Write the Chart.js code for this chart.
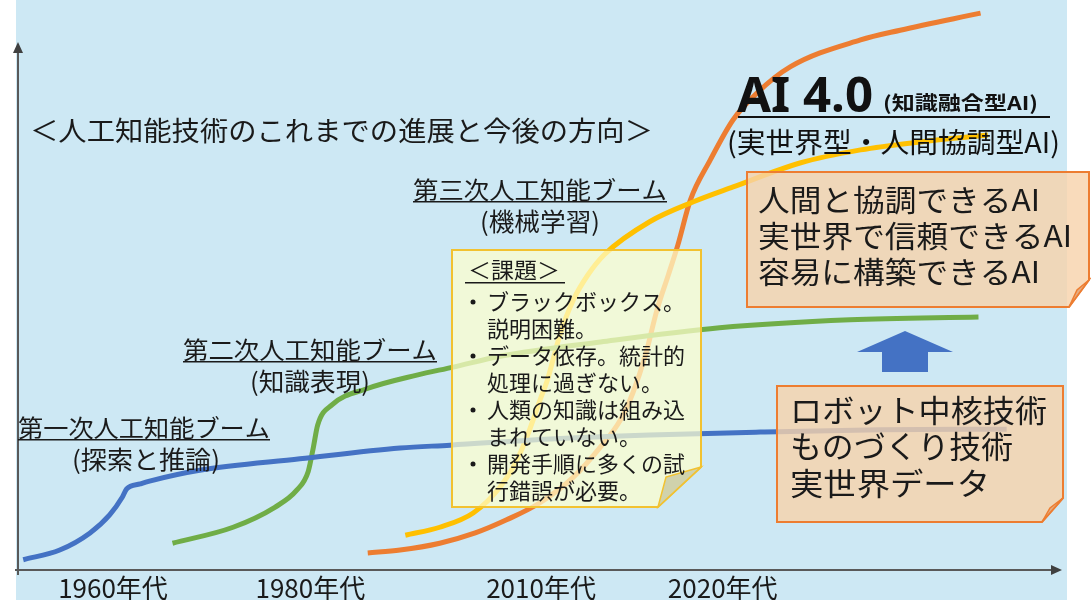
<!DOCTYPE html>
<html lang="ja">
<head>
<meta charset="utf-8">
<script src="https://cdn.jsdelivr.net/npm/chart.js@4"></script>
<style>
  html, body { margin: 0; padding: 0; background: #fff; }
  #wrap { width: 1091px; height: 600px; }
</style>
</head>
<body>
<div id="wrap"><canvas id="aiChart"></canvas></div>
<script>
// 時間軸 (0-100) と進展度 (0-100) の相対値
const boom1X = [0.5, 4.0, 6.9, 8.8, 10.0, 10.4, 11.7, 12.6, 17.4, 27.0, 36.6, 41.4, 51.0, 60.5, 71.1, 82.6, 94.7];
const boom1Y = [1.8, 3.5, 6.5, 9.7, 12.8, 14.2, 15.1, 15.6, 17.5, 19.5, 21.4, 21.9, 23.0, 23.7, 24.2, 24.6, 24.7];

const boom2X = [14.8, 20.6, 24.6, 26.7, 27.8, 28.3, 28.7, 30.1, 33.4, 38.2, 41.7, 46.2, 55.8, 67.2, 79.7, 92.0];
const boom2Y = [4.7, 7.5, 11.0, 14.0, 17.3, 21.6, 25.4, 29.0, 31.8, 34.2, 35.6, 37.5, 40.0, 42.5, 43.9, 44.4];

const boom3X = [37.1, 40.4, 43.6, 46.2, 47.8, 49.0, 50.0, 50.7, 51.9, 53.2, 54.6, 56.2, 60.5, 64.7, 68.5, 74.9, 80.7, 86.4, 92.9];
const boom3Y = [6.1, 7.5, 10.0, 14.6, 19.3, 24.6, 29.8, 33.3, 41.2, 47.4, 51.8, 55.4, 61.1, 64.6, 67.2, 71.4, 73.7, 75.1, 76.3];

const ai4X = [33.5, 36.6, 40.4, 43.8, 46.8, 50.0, 53.2, 55.8, 57.7, 58.9, 60.1, 61.2, 62.3, 63.2, 64.4, 66.3, 68.5, 70.8, 74.0, 80.7, 84.5, 92.2];
const ai4Y = [3.0, 3.5, 4.7, 6.5, 8.8, 11.8, 16.3, 21.6, 26.3, 31.1, 37.7, 45.6, 51.8, 57.0, 64.9, 71.9, 79.0, 83.7, 88.3, 93.0, 94.7, 97.7];

const decadeLabels = ['1960年代', '1980年代', '2010年代', '2020年代'];
const decadeX = [9.1, 28.0, 50.1, 67.5];

const challenges = [
  'ブラックボックス。', '説明困難。',
  'データ依存。統計的', '処理に過ぎない。',
  '人類の知識は組み込', 'まれていない。',
  '開発手順に多くの試', '行錯誤が必要。'
];
const goals = ['人間と協調できるAI', '実世界で信頼できるAI', '容易に構築できるAI'];
const bases = ['ロボット中核技術', 'ものづくり技術', '実世界データ'];

const JP = '"Noto Sans CJK JP", "Noto Sans", sans-serif';

function pts(xs, ys) {
  return xs.map((x, i) => ({ x: x, y: ys[i] }));
}

// 幅を合わせて描く
function fitText(ctx, text, x, y, w, font) {
  ctx.font = font;
  const m = ctx.measureText(text).width;
  ctx.save();
  ctx.translate(x, y);
  ctx.scale(w / m, 1);
  ctx.fillText(text, 0, 0);
  ctx.restore();
}

function noteBox(ctx, x0, y0, x1, y1, cut, fill, stroke, foldFill) {
  ctx.beginPath();
  ctx.moveTo(x0, y0);
  ctx.lineTo(x1, y0);
  ctx.lineTo(x1, y1 - cut[1]);
  ctx.lineTo(x1 - cut[0], y1);
  ctx.lineTo(x0, y1);
  ctx.closePath();
  ctx.fillStyle = fill;
  ctx.fill();
  ctx.lineWidth = 2;
  ctx.strokeStyle = stroke;
  ctx.stroke();
  ctx.beginPath();
  ctx.moveTo(x1, y1 - cut[1]);
  ctx.lineTo(x1 - cut[0] + 8, y1 - cut[1] + 10);
  ctx.lineTo(x1 - cut[0], y1);
  ctx.closePath();
  ctx.fillStyle = foldFill;
  ctx.fill();
  ctx.lineWidth = 1.5;
  ctx.stroke();
}

const diagram = {
  id: 'diagram',
  beforeDraw(chart) {
    const ctx = chart.ctx;
    ctx.save();
    ctx.fillStyle = '#ffffff';
    ctx.fillRect(0, 0, chart.width, chart.height);
    ctx.fillStyle = '#cde8f4';
    ctx.fillRect(16, 0, 1051, chart.height);
    ctx.restore();
  },
  afterDatasetsDraw(chart) {
    const ctx = chart.ctx;
    const xs = chart.scales.x;
    const area = chart.chartArea;
    ctx.save();

    // 軸
    ctx.strokeStyle = '#595959';
    ctx.fillStyle = '#404040';
    ctx.lineWidth = 2;
    ctx.beginPath();
    ctx.moveTo(area.left, area.bottom + 5);
    ctx.lineTo(area.left, 50);
    ctx.moveTo(15, area.bottom);
    ctx.lineTo(area.right - 8, area.bottom);
    ctx.stroke();
    ctx.beginPath();
    ctx.moveTo(area.left, 42);
    ctx.lineTo(area.left - 5, 53);
    ctx.lineTo(area.left + 5, 53);
    ctx.closePath();
    ctx.fill();
    ctx.beginPath();
    ctx.moveTo(area.right, area.bottom);
    ctx.lineTo(area.right - 11, area.bottom - 5);
    ctx.lineTo(area.right - 11, area.bottom + 5);
    ctx.closePath();
    ctx.fill();

    // 年代ラベル
    ctx.fillStyle = '#1a1a1a';
    ctx.font = '26px ' + JP;
    ctx.textAlign = 'center';
    ctx.textBaseline = 'alphabetic';
    decadeLabels.forEach((t, i) => {
      ctx.fillText(t, xs.getPixelForValue(decadeX[i]), 598);
    });

    ctx.textAlign = 'left';
    ctx.textBaseline = 'middle';

    // タイトル
    fitText(ctx, '＜人工知能技術のこれまでの進展と今後の方向＞', 30, 131, 623, '27px ' + JP);

    // 各ブーム
    const booms = [
      { t: '第一次人工知能ブーム', s: '(探索と推論)', x: 18, w: 252, y: 428, sx: 72, sw: 148 },
      { t: '第二次人工知能ブーム', s: '(知識表現)', x: 183, w: 254, y: 350, sx: 250, sw: 120 },
      { t: '第三次人工知能ブーム', s: '(機械学習)', x: 413, w: 254, y: 190, sx: 480, sw: 120 }
    ];
    booms.forEach(b => {
      ctx.fillStyle = '#1a1a1a';
      fitText(ctx, b.t, b.x, b.y, b.w, '24px ' + JP);
      ctx.fillRect(b.x, b.y + 11, b.w, 1.5);
      fitText(ctx, b.s, b.sx, b.y + 31, b.sw, '25px ' + JP);
    });

    // 課題の付箋
    noteBox(ctx, 452, 250, 701, 507, [43, 40], 'rgba(255,255,205,0.72)', '#f2c230', 'rgba(205,208,170,0.95)');
    ctx.fillStyle = '#1a1a1a';
    fitText(ctx, '＜課題＞', 468, 270, 92, '22px ' + JP);
    ctx.fillRect(465, 282, 100, 1.5);
    challenges.forEach((t, i) => {
      const y = 302 + i * 27;
      if (i % 2 === 0) {
        ctx.beginPath();
        ctx.arc(473, y, 2.5, 0, Math.PI * 2);
        ctx.fill();
      }
      ctx.font = '22px ' + JP;
      ctx.fillText(t, 487, y);
    });

    // AI 4.0
    ctx.fillStyle = '#111111';
    ctx.textBaseline = 'alphabetic';
    fitText(ctx, 'AI 4.0', 737, 112, 136, 'bold 48px "Noto Sans", "DejaVu Sans", sans-serif');
    ctx.textBaseline = 'middle';
    fitText(ctx, '(知識融合型AI)', 883, 103, 155, 'bold 19px ' + JP);
    ctx.fillRect(738, 116, 312, 2);
    fitText(ctx, '(実世界型・人間協調型AI)', 727, 142, 333, '28px ' + JP);

    // 目標の付箋
    noteBox(ctx, 747, 172, 1089, 307, [20, 27], 'rgba(248,210,170,0.8)', '#ed7d31', 'rgba(228,170,125,0.95)');
    ctx.fillStyle = '#1a1a1a';
    const goalW = [282, 314, 282];
    goals.forEach((t, i) => {
      fitText(ctx, t, 758, 200 + i * 36, goalW[i], '30px ' + JP);
    });

    // 上向き矢印
    ctx.fillStyle = '#4472c4';
    ctx.beginPath();
    ctx.moveTo(905, 331);
    ctx.lineTo(953, 352);
    ctx.lineTo(928, 352);
    ctx.lineTo(928, 372);
    ctx.lineTo(882, 372);
    ctx.lineTo(882, 352);
    ctx.lineTo(857, 352);
    ctx.closePath();
    ctx.fill();

    // 基盤の付箋
    noteBox(ctx, 777, 386, 1063, 522, [21, 24], 'rgba(248,210,170,0.8)', '#ed7d31', 'rgba(228,170,125,0.95)');
    ctx.fillStyle = '#1a1a1a';
    const baseW = [257, 223, 200];
    bases.forEach((t, i) => {
      fitText(ctx, t, 790, 410 + i * 36.5, baseW[i], '31px ' + JP);
    });

    ctx.restore();
  }
};

const line = (label, xs, ys, color) => ({
  label: label,
  data: pts(xs, ys),
  borderColor: color,
  borderWidth: 5,
  pointRadius: 0,
  fill: false,
  cubicInterpolationMode: 'monotone',
  borderCapStyle: 'butt'
});

new Chart(document.getElementById('aiChart'), {
  type: 'line',
  data: {
    datasets: [
      line('第一次人工知能ブーム', boom1X, boom1Y, '#4472c4'),
      line('第二次人工知能ブーム', boom2X, boom2Y, '#70ad47'),
      line('第三次人工知能ブーム', boom3X, boom3Y, '#ffc000'),
      line('AI 4.0', ai4X, ai4Y, '#ed7d31')
    ]
  },
  options: {
    responsive: true,
    maintainAspectRatio: false,
    animation: false,
    layout: { padding: { left: 18, right: 29, top: 0, bottom: 30 } },
    scales: {
      x: { type: 'linear', min: 0, max: 100, display: false },
      y: { type: 'linear', min: 0, max: 100, display: false }
    },
    plugins: {
      legend: { display: false },
      tooltip: { enabled: false }
    }
  },
  plugins: [diagram]
});
</script>
</body>
</html>
